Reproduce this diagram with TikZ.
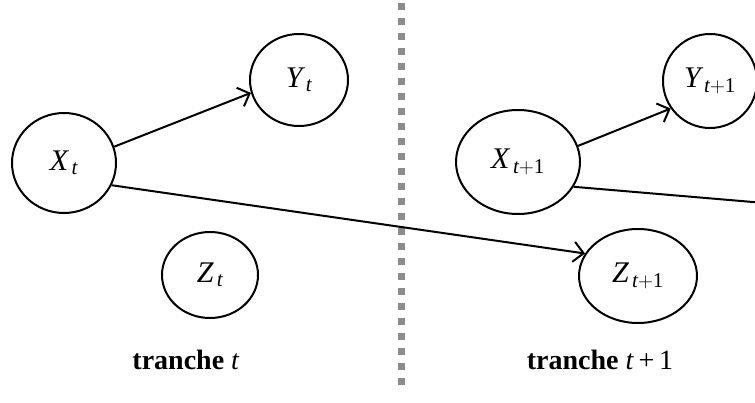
\documentclass[tikz,border=0pt]{standalone}
\usepackage{fontspec}
\setmainfont{Liberation Serif}
\usetikzlibrary{shapes.geometric,arrows.meta}
\definecolor{slicegray}{RGB}{140,140,140}
\newcommand{\tvar}[2]{$\mathit{#1}_{\,\mathit{#2}}$}

\begin{document}
\begin{tikzpicture}[x=1pt,y=-1pt,
  var/.style={draw,ellipse,line width=2pt,inner sep=0pt,font=\fontsize{30}{34}\selectfont},
  link/.style={line width=2pt,-{Straight Barb[length=10pt,width=20pt,line width=2pt]}},
  slice/.style={font=\fontsize{28}{32}\selectfont}]
\useasboundingbox (0,0) rectangle (755,403);
\clip (0,0) rectangle (755,403);
\draw[slicegray,line width=7pt,dash pattern=on 7pt off 8pt] (401,3) -- (401,386);
\node[var,minimum width=104pt,minimum height=100pt] (xt) at (64,163) {\tvar{X}{t}};
\node[var,minimum width=98pt,minimum height=92pt] (yt) at (299,80) {\tvar{Y}{t}};
\node[var,minimum width=96pt,minimum height=86pt] (zt) at (210,275) {\tvar{Z}{t}};
\node[var,minimum width=124pt,minimum height=104pt] (xn) at (518,162) {\tvar{X}{t\mathrm{+1}}};
\node[var,minimum width=94pt,minimum height=94pt] (yn) at (710,81) {\tvar{Y}{t\mathrm{+1}}};
\node[var,minimum width=118pt,minimum height=94pt] (zn) at (638,276) {\tvar{Z}{t\mathrm{+1}}};
\coordinate (out) at (800,206);
\draw[link] (xt.18) -- (yt.195);
\draw[link] (xt.-25) -- (zn.157);
\draw[link] (xn.15) -- (yn.215);
\draw[line width=2pt] (xn.-24) -- (out);
\node[slice] (tt) at (186,360) {\textbf{tranche} \textit{t}};
\node[slice] (tn) at (600,360) {\textbf{tranche} \textit{t}\,+\,1};
\end{tikzpicture}
\end{document}
